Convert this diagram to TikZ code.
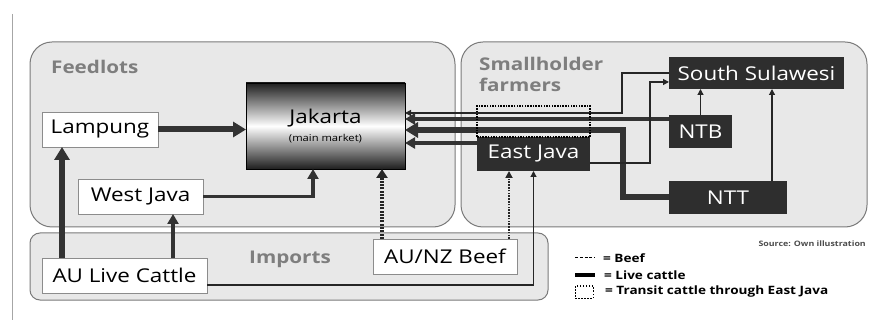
\documentclass[tikz,border=0pt]{standalone}
\usepackage{fontspec}
\setmainfont{Open Sans}[FakeStretch=1.18]
\usetikzlibrary{arrows.meta,calc}
\definecolor{groupfill}{HTML}{E8E8E8}
\definecolor{groupline}{HTML}{7A7A7A}
\definecolor{labelgray}{HTML}{7E7E7E}
\definecolor{darkfill}{HTML}{2E2E2E}
\newcommand*\boxfont{\fontsize{19}{21}\selectfont}
\newcommand*\groupfont{\fontsize{17.5}{21}\selectfont\bfseries}
\tikzset{
    groupbox/.style  = {draw=groupline, line width=1pt, fill=groupfill,
                       rounded corners=22pt, inner sep=0pt, outer sep=0pt},
    grouplabel/.style= {text=labelgray, font=\groupfont, inner sep=0pt},
    whitebox/.style  = {draw=black!45, line width=0.8pt, fill=white,
                       minimum height=35pt, inner sep=0pt, outer sep=0pt,
                       font=\boxfont},
    darkbox/.style   = {fill=darkfill, text=white, minimum height=33pt,
                       inner sep=0pt, outer sep=0pt, font=\boxfont},
    marketbox/.style = {draw=black, line width=0.8pt, top color=black!88,
                       bottom color=black!88, middle color=white,
                       minimum width=159pt, minimum height=86pt,
                       inner sep=0pt, outer sep=0pt, align=center, font=\boxfont},
    transitbox/.style= {draw=black, line width=1.5pt, dash pattern=on 1.5pt off 1.2pt,
                       inner sep=0pt, outer sep=0pt},
    thickflow/.style = {line width=6pt, draw=black!80, -{Triangle[width=15pt,length=13pt]}},
    medflow/.style   = {line width=3.5pt, draw=black!80, -{Triangle[width=11pt,length=10pt]}},
    thinflow/.style  = {line width=1.2pt, draw=black!85, -{Triangle[width=6pt,length=6pt]}},
    beefflow/.style  = {line width=3.2pt, draw=black!85, dash pattern=on 2pt off 1.3pt,
                       -{Triangle[width=11pt,length=9pt]}},
    thinbeef/.style  = {line width=2.2pt, draw=black!85, dash pattern=on 1.6pt off 1.2pt,
                       -{Triangle[width=7pt,length=7pt]}},
    legendtext/.style= {font=\fontsize{11.5}{13}\selectfont\bfseries, inner sep=0pt},
    sourcetext/.style= {font=\fontsize{7.5}{9}\selectfont\bfseries, text=black!70, inner sep=0pt},
  }
\begin{document}
\begin{tikzpicture}[x=1pt,y=-1pt]
    \useasboundingbox (0,0) rectangle (875,320);
    \draw[black!35, line width=1pt] (12,14) -- (12,320);

    % Group areas
    \node (feedlots) [groupbox, minimum width=425pt, minimum height=185pt] at (242.5,134.5) {};
    \node (smallholder) [groupbox, minimum width=406pt, minimum height=185pt] at (664,134.5) {};
    \node (imports) [groupbox, rounded corners=10pt, minimum width=518pt, minimum height=67pt] at (289,266.5) {};
    \node (feedlotslabel) [grouplabel, anchor=west] at (51,67) {Feedlots};
    \node (smallholderlabel) [grouplabel, anchor=north west, align=left] at (479,57) {Smallholder\\farmers};
    \node (importslabel) [grouplabel] at (290,259) {Imports};

    % Places
    \node (lampung)  [whitebox, minimum width=116pt] at (100,129.5) {Lampung};
    \node (westjava) [whitebox, minimum width=125pt] at (140.5,196.5) {West Java};
    \node (aulive)   [whitebox, minimum width=165pt] at (124.5,275.5) {AU Live Cattle};
    \node (aunz)     [whitebox, minimum width=144pt] at (445,256.5) {AU/NZ Beef};
    \node (jakarta)  [marketbox] at (325.5,126) {Jakarta\\[-3pt]{\fontsize{9.5}{11}\selectfont(main market)}};
    \node (eastjava) [darkbox, minimum width=113pt, minimum height=34pt] at (533.5,154) {East Java};
    \node (sulawesi) [darkbox, minimum width=175pt, minimum height=32pt] at (756.5,73) {South Sulawesi};
    \node (ntb)      [darkbox, minimum width=63pt] at (700.5,131.5) {NTB};
    \node (ntt)      [darkbox, minimum width=118pt] at (728,197.5) {NTT};

    % Lanes for the connectors
    \coordinate (lanelampung) at (62,0);
    \coordinate (lanewest)    at (173,0);
    \coordinate (lanewj)      at (313,0);
    \coordinate (lanebeef)    at (382,0);
    \coordinate (laneejbeef)  at (509,0);
    \coordinate (lanentt)     at (772,0);
    \coordinate (laneship)    at (0,285);
    \coordinate (lanentb)     at (0,119);
    \coordinate (laneej)      at (0,143);
    \coordinate (bendss)      at (622,113);
    \coordinate (bendntt)     at (623,130);
    \coordinate (bendej)      at (650,163);
    \coordinate (ssin)        at (650,82);

    % Imports
    \draw[thickflow] (aulive.north -| lanelampung) -- (lampung.south -| lanelampung);
    \draw[medflow] (aulive.north -| lanewest) -- (westjava.south -| lanewest);
    \draw[thinflow] (aulive.east |- laneship) -| (eastjava.south);
    \draw[beefflow] (aunz.north -| lanebeef) -- (jakarta.south -| lanebeef);
    \draw[thinbeef] (aunz.north -| laneejbeef) -- (eastjava.south -| laneejbeef);

    % Feedlots to Jakarta
    \draw[thickflow] (lampung.east) -- (lampung.east -| jakarta.west);
    \draw[medflow] (westjava.east) -| (lanewj |- jakarta.south);

    % Smallholder farmers
    \draw[thinflow] (sulawesi.west) -| (bendss) -- (jakarta.east |- bendss);
    \draw[medflow] (ntb.west |- lanentb) -- (jakarta.east |- lanentb);
    \draw[thickflow] (ntt.west) -| (bendntt) -- (jakarta.east |- bendntt);
    \draw[medflow] (eastjava.west |- laneej) -- (jakarta.east |- laneej);
    \draw[thinflow] (eastjava.east |- bendej) -| (ssin) -- (sulawesi.west |- ssin);
    \draw[thinflow] (ntb.north) -- (ntb.north |- sulawesi.south);
    \draw[thinflow] (ntt.north -| lanentt) -- (sulawesi.south -| lanentt);
    \node (transit) [transitbox, minimum width=113pt, minimum height=31pt] at (533.5,121.5) {};

    % Legend
    \node (source) [sourcetext, anchor=east] at (866,244) {Source: Own illustration};
    \draw[line width=1pt, dash pattern=on 3pt off 1.8pt] (575,258) -- (595,258);
    \node (legbeef) [legendtext, anchor=west] at (603,258) {= Beef};
    \draw[line width=4pt] (575,275) -- (595,275);
    \node (legcattle) [legendtext, anchor=west] at (604,275) {= Live cattle};
    \draw[line width=1pt, dash pattern=on 1.5pt off 1.5pt] (575,286) rectangle (593,298);
    \node (legtransit) [legendtext, anchor=west] at (605,292) {= Transit cattle through East Java};
\end{tikzpicture}
\end{document}
